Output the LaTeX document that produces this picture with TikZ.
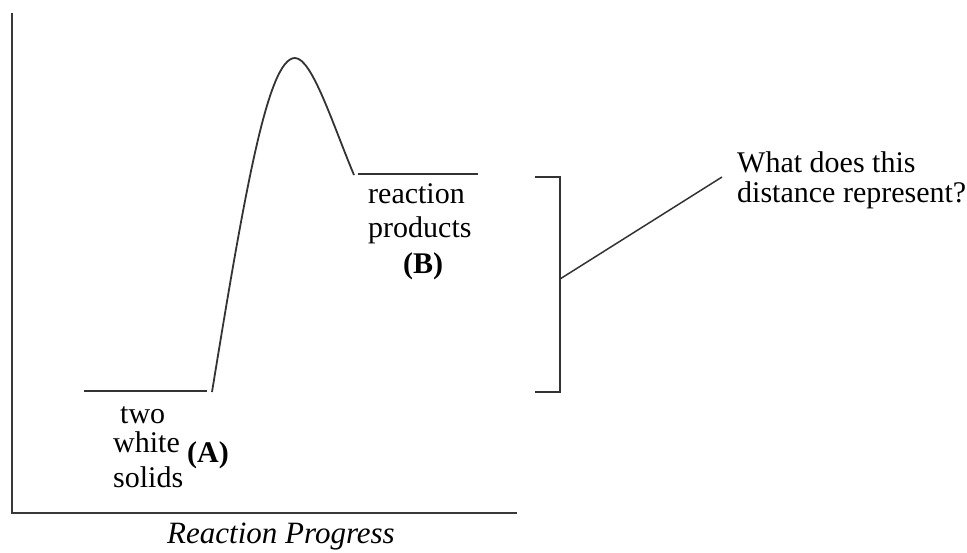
\documentclass[tikz,border=0pt]{standalone}
\usepackage{fontspec}
\setmainfont{Liberation Serif}
\begin{document}
\begin{tikzpicture}[x=1pt,y=-1pt,
  axisln/.style={line width=2.2pt, draw=black!78},
  ln/.style={line width=1.8pt, draw=black!80},
  lbl/.style={inner sep=0pt, anchor=base west, font=\fontsize{30}{34}\selectfont},
  boldlbl/.style={lbl, font=\fontsize{30}{34}\selectfont\bfseries},
  itlbl/.style={lbl, font=\fontsize{31}{34}\selectfont\itshape}]
\useasboundingbox (0,0) rectangle (967,552);
% axes
\coordinate (ytop) at (12,13);
\coordinate (origin) at (12,513);
\coordinate (xend) at (517,513);
\draw[axisln] (ytop) -- (origin) -- (xend);
% reactant level
\coordinate (ra) at (84,391);
\coordinate (rb) at (207,391);
\draw[ln] (ra) -- (rb);
% energy curve
\coordinate (cs) at (212,392);
\coordinate (peak) at (295,58);
\coordinate (ce) at (354,175);
\draw[ln] (cs) .. controls (245,190) and (268,58) .. (peak)
               .. controls (312,58) and (333,125) .. (ce);
% product level
\coordinate (pa) at (358,174);
\coordinate (pb) at (478,174);
\draw[ln] (pa) -- (pb);
% bracket
\coordinate (bt) at (535,177);
\coordinate (btr) at (560,177);
\coordinate (bbr) at (560,392);
\coordinate (bb) at (535,392);
\draw[ln] (bt) -- (btr) -- (bbr) -- (bb);
% leader
\coordinate (lead0) at (560,279);
\coordinate (lead1) at (722,177);
\draw[ln, line width=1.5pt] (lead0) -- (lead1);
% labels
\node[lbl] (two) at (120,423) {two};
\node[lbl] (white) at (113,452) {white};
\node[lbl] (solids) at (113,487) {solids};
\node[boldlbl] (A) at (187,462) {(A)};
\node[lbl] (reaction) at (368,203) {reaction};
\node[lbl] (products) at (368,237) {products};
\node[boldlbl] (B) at (403,273) {(B)};
\node[lbl] (q1) at (737,172) {What does this};
\node[lbl] (q2) at (737,202) {distance represent?};
\node[itlbl] (xlabel) at (167,543) {Reaction Progress};
\end{tikzpicture}
\end{document}
